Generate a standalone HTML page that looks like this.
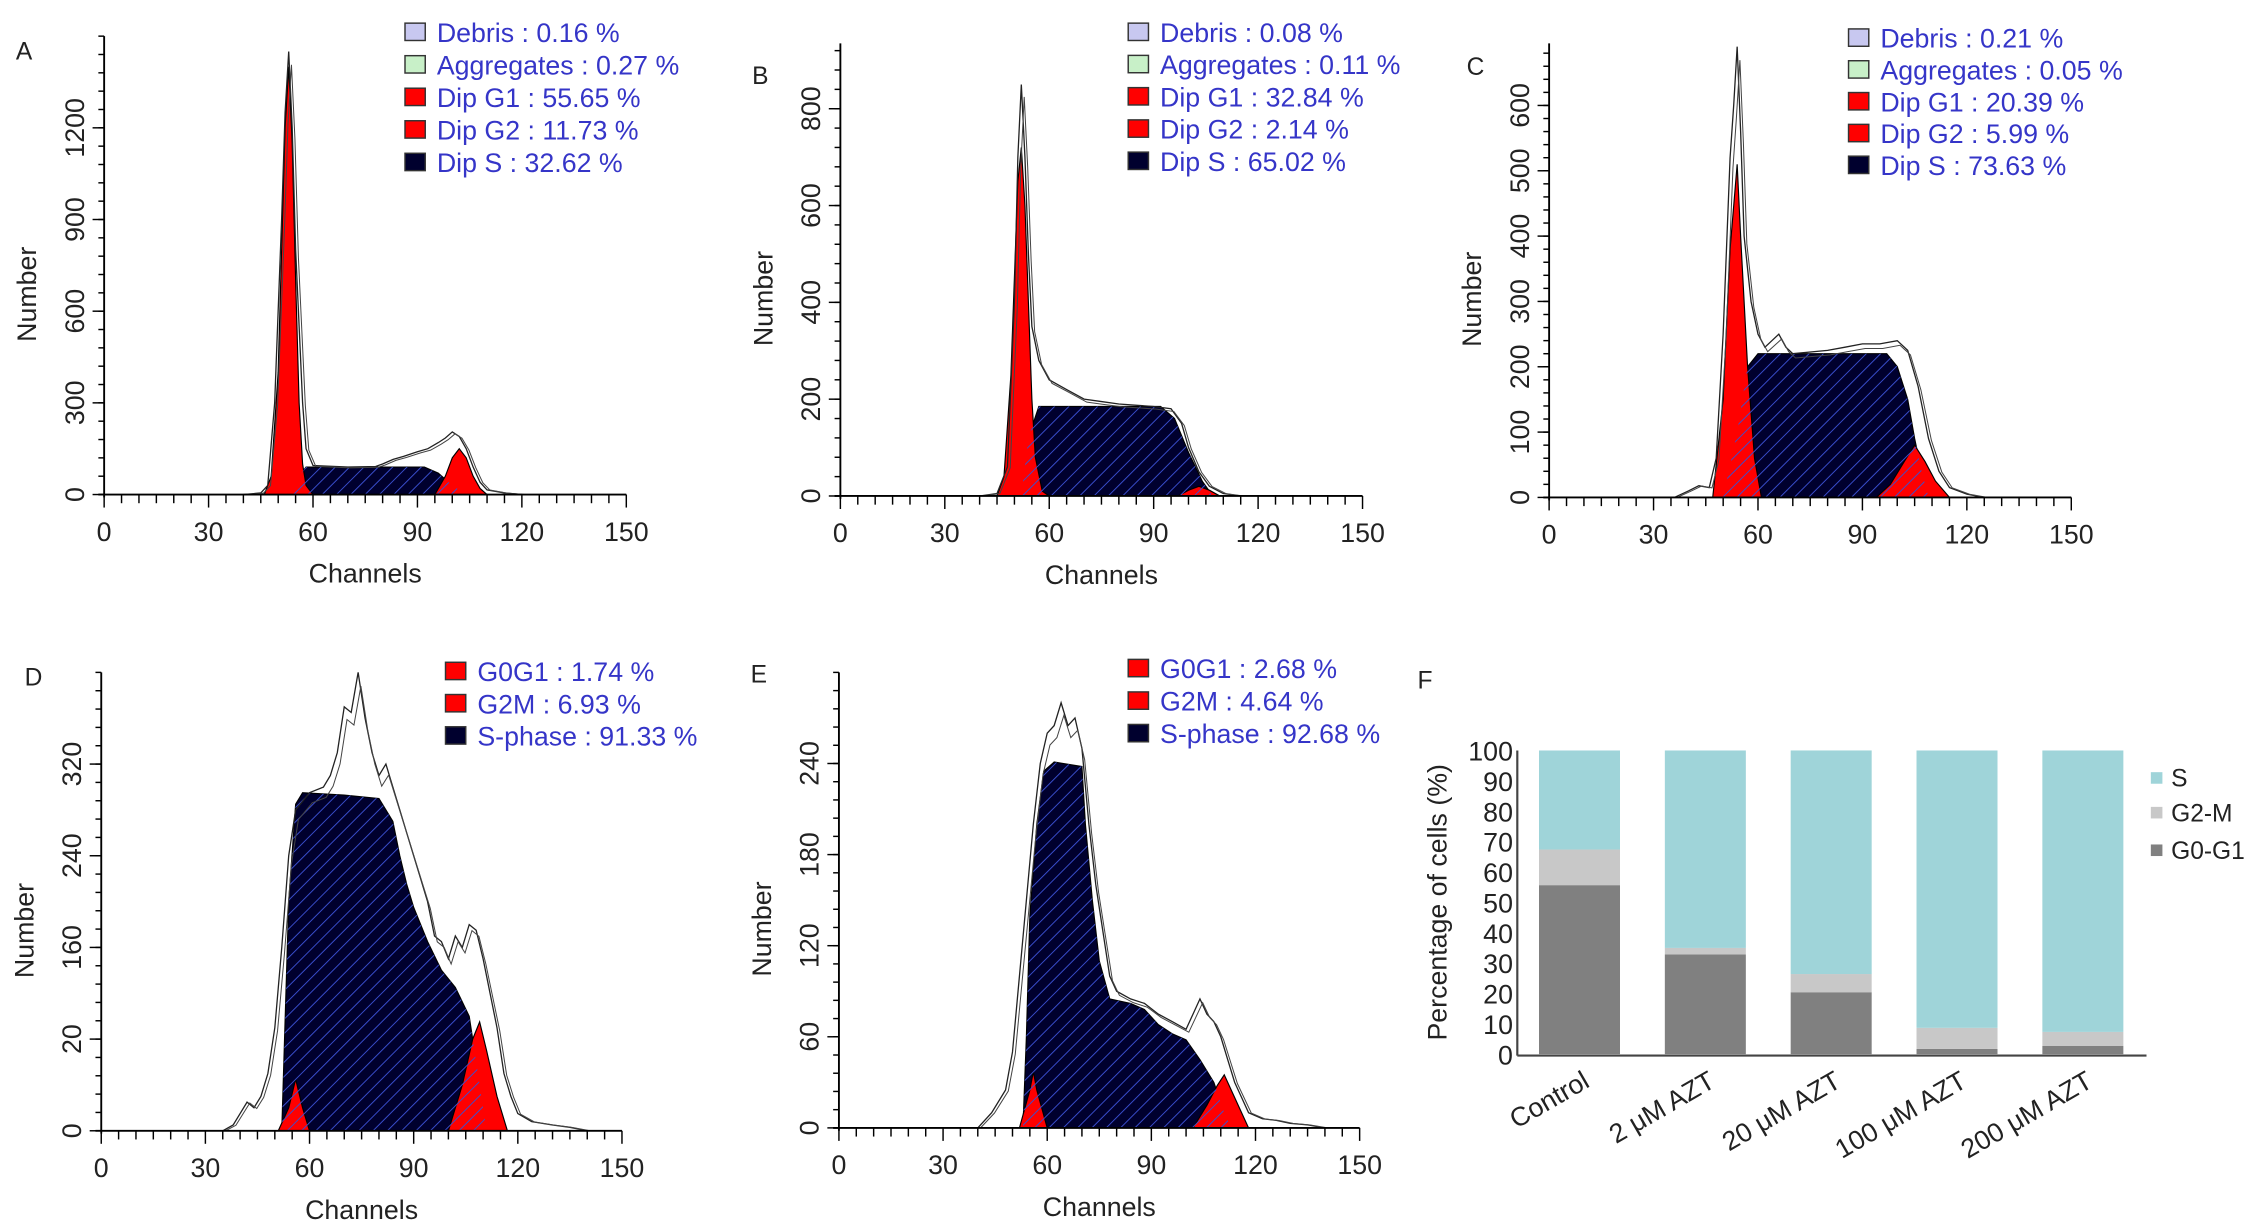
<!DOCTYPE html>
<html><head><meta charset="utf-8">
<style>
html,body{margin:0;padding:0;background:#fff;}
svg{display:block;font-family:"Liberation Sans",Arial,sans-serif;}
</style></head>
<body>
<svg id="fig" width="2268" height="1232" viewBox="0 0 1568 852" preserveAspectRatio="none" xmlns="http://www.w3.org/2000/svg">
<defs>
<pattern id="hatch" patternUnits="userSpaceOnUse" width="7" height="7" patternTransform="rotate(45)">
<line x1="0" y1="0" x2="0" y2="7" stroke="#3a4fd0" stroke-width="1.3"/>
</pattern>
</defs>
</svg>
<script>
// ---- Histogram data (channel, count) ----
const rawA=[[40,0],[45,5],[47,30],[49,300],[51,900],[52,1250],[53,1450],[54,1200],[55,800],[57,300],[58,150],[60,95],[70,90],[78,92],[80,100],[83,115],[86,125],[90,140],[93,150],[96,170],[98,185],[100,205],[102,190],[104,150],[106,90],[108,40],[110,15],[115,5],[120,0]];
const g1A=[[46,0],[48,60],[50,400],[51,800],[52,1200],[53,1400],[54,1150],[55,700],[56,300],[57,100],[58,30],[60,0]];
const sA=[[54,0],[56,60],[58,90],[92,90],[96,70],[100,30],[104,0]];
const g2A=[[95,0],[98,60],[100,120],[102,150],[104,120],[106,60],[108,20],[110,0]];

const rawB=[[40,0],[45,5],[48,60],[50,400],[51,700],[52,850],[53,700],[54,500],[55,350],[57,280],[60,240],[65,220],[70,200],[75,195],[80,190],[90,185],[95,180],[98,150],[100,100],[103,50],[106,20],[110,5],[115,0]];
const g1B=[[45,0],[47,40],[49,250],[50,450],[51,650],[52,720],[53,600],[54,400],[55,200],[56,80],[58,10],[60,0]];
const sB=[[52,0],[54,120],[57,185],[92,185],[96,160],[100,90],[104,30],[107,0]];
const g2B=[[97,0],[100,12],[103,20],[106,12],[109,0]];

const rawC=[[36,0],[40,10],[43,18],[46,15],[48,60],[50,250],[52,520],[53,600],[54,690],[55,560],[56,400],[58,300],[60,250],[62,230],[64,240],[66,250],[68,230],[70,220],[80,225],[85,230],[90,235],[95,235],[100,240],[103,225],[106,170],[109,90],[112,40],[115,15],[120,5],[125,0]];
const g1C=[[47,0],[50,150],[52,380],[54,510],[55,400],[57,200],[59,60],[61,0]];
const sC=[[50,0],[54,100],[57,200],[60,220],[97,220],[100,200],[103,150],[105,90],[107,40],[109,0]];
const g2C=[[94,0],[98,20],[102,55],[105,80],[108,55],[111,25],[115,0]];

const rawD=[[35,0],[38,5],[40,15],[42,25],[44,20],[46,30],[48,50],[50,90],[52,160],[54,240],[56,280],[60,295],[64,300],[66,310],[68,330],[70,370],[72,365],[74,400],[76,360],[78,330],[80,310],[82,320],[84,300],[86,280],[88,260],[90,240],[92,220],[94,200],[96,170],[98,165],[100,150],[102,170],[104,160],[106,180],[108,175],[110,150],[112,120],[114,90],[116,50],[118,30],[120,15],[124,8],[130,5],[135,3],[140,0]];
const g1D=[[51,0],[54,20],[56,45],[58,20],[60,0]];
const sD=[[52,0],[53,100],[54,200],[56,285],[58,295],[70,293],[80,290],[84,270],[86,240],[88,215],[90,195],[94,165],[98,140],[102,125],[106,100],[108,60],[110,20],[111,0]];
const g2D=[[100,0],[104,40],[107,80],[109,95],[111,70],[114,30],[117,0]];

const rawE=[[40,0],[44,10],[48,25],[50,50],[52,100],[54,150],[56,200],[58,240],[60,260],[62,265],[64,280],[66,265],[68,270],[70,250],[72,200],[74,160],[76,130],[78,100],[80,90],[84,85],[88,82],[92,75],[96,70],[100,65],[102,75],[104,85],[106,75],[108,70],[110,60],[112,45],[114,30],[116,20],[118,10],[122,6],[126,5],[130,3],[135,2],[140,0]];
const g1E=[[52,0],[55,25],[56,37],[57,25],[60,0]];
const sE=[[53,0],[54,60],[55,140],[57,200],[59,235],[62,241],[70,238],[71,200],[73,150],[75,110],[78,85],[84,82],[88,78],[92,68],[96,62],[100,58],[104,45],[108,30],[111,10],[113,0]];
const g2E=[[102,0],[106,15],[109,28],[111,35],[113,25],[116,10],[118,0]];

// y tick values and printed labels
const yTicksA=[0,300,600,900,1200], yLabelsA=["0","300","600","900","1200"];
const yTicksB=[0,200,400,600,800], yLabelsB=["0","200","400","600","800"];
const yTicksC=[0,100,200,300,400,500,600], yLabelsC=["0","100","200","300","400","500","600"];
const yTicksD=[0,80,160,240,320], yLabelsD=["0","20","160","240","320"];
const yTicksE=[0,60,120,180,240], yLabelsE=["0","60","120","180","240"];
const xTicks=[0,30,60,90,120,150];

const legA=["Debris : 0.16 %","Aggregates : 0.27 %","Dip G1 : 55.65 %","Dip G2 : 11.73 %","Dip S : 32.62 %"];
const legB=["Debris : 0.08 %","Aggregates : 0.11 %","Dip G1 : 32.84 %","Dip G2 : 2.14 %","Dip S : 65.02 %"];
const legC=["Debris : 0.21 %","Aggregates : 0.05 %","Dip G1 : 20.39 %","Dip G2 : 5.99 %","Dip S : 73.63 %"];
const legD=["G0G1 : 1.74 %","G2M : 6.93 %","S-phase : 91.33 %"];
const legE=["G0G1 : 2.68 %","G2M : 4.64 %","S-phase : 92.68 %"];

// ---- Bar chart data ----
const categories=["Control","2 μM AZT","20 μM AZT","100 μM AZT","200 μM AZT"];
const g0g1=[55.65,32.84,20.39,1.74,2.68];
const g2m=[11.73,2.14,5.99,6.93,4.64];
const sPhase=[32.62,65.02,73.63,91.33,92.68];
const barTicks=[0,10,20,30,40,50,60,70,80,90,100];

const svg=document.getElementById('fig');
const NS="http://www.w3.org/2000/svg";
const FS=18.5;
function mk(tag,attrs,parent){const e=document.createElementNS(NS,tag);for(const k in attrs)e.setAttribute(k,attrs[k]);(parent||svg).appendChild(e);return e;}
function txt(s,attrs,parent){const e=mk('text',attrs,parent);e.textContent=s;return e;}

function histo(cfg){
  const g=mk('g',{});
  
  
  const X=c=>cfg.x0+(cfg.x1-cfg.x0)*c/150;
  const Y=v=>cfg.y0-(cfg.y0-cfg.top)*v/cfg.yMax;
  const pts=a=>a.map(p=>X(p[0]).toFixed(1)+','+Y(p[1]).toFixed(1)).join(' ');
  const sFill=mk('polygon',{points:pts(cfg.s),fill:'#00002e',stroke:'#000',"stroke-width":0.8},g);
  
  
  const g1=mk('polygon',{points:pts(cfg.g1),fill:'#ff0000',stroke:'#000',"stroke-width":0.8},g);
  
  
  const g2=mk('polygon',{points:pts(cfg.g2),fill:'#ff0000',stroke:'#000',"stroke-width":0.8},g);
  
  
  const hat=mk('polygon',{points:pts(cfg.s),fill:'url(#hatch)',stroke:'none'},g);
  
  
  const raw=mk('polyline',{points:pts(cfg.raw),fill:'none',stroke:'#222',"stroke-width":0.9},g);
  
  
  const raw2=mk('polyline',{points:pts(cfg.raw.map(p=>[p[0]+0.8,p[1]*0.97])),fill:'none',stroke:'#444',"stroke-width":0.7},g);
  
  
  const xa=mk('line',{x1:cfg.x0-4,y1:cfg.y0,x2:cfg.x1,y2:cfg.y0,stroke:'#000',"stroke-width":1.3},g);
  
  
  const ya=mk('line',{x1:cfg.x0,y1:cfg.top,x2:cfg.x0,y2:cfg.y0+2,stroke:'#000',"stroke-width":1.3},g);
  
  
  for(let c=0;c<=150;c+=5){
    mk('line',{x1:X(c),y1:cfg.y0,x2:X(c),y2:cfg.y0+(c%30===0?9:6),stroke:'#000',"stroke-width":1},g);
  }
  xTicks.forEach(c=>{
    const t=txt(String(c),{x:X(c),y:cfg.y0+32,"font-size":FS,"text-anchor":"middle",fill:'#222'},g);
    
    
  });
  for(let v=0;v<=cfg.yMax;v+=cfg.minor){
    mk('line',{x1:cfg.x0-4,y1:Y(v),x2:cfg.x0,y2:Y(v),stroke:'#000',"stroke-width":1},g);
  }
  cfg.yt.forEach((v,i)=>{
    mk('line',{x1:cfg.x0-8,y1:Y(v),x2:cfg.x0,y2:Y(v),stroke:'#000',"stroke-width":1},g);
    const t=txt(cfg.yl[i],{x:0,y:0,"font-size":FS,"text-anchor":"middle",fill:'#222',transform:`translate(${cfg.x0-14},${Y(v)}) rotate(-90)`},g);
    
    
  });
  if(cfg.xt){
    const t=txt('Channels',{x:(cfg.x0+cfg.x1)/2,y:cfg.y0+61,"font-size":FS,"text-anchor":"middle",fill:'#222'},g);
    
    
  }
  const yt=txt('Number',{x:0,y:0,"font-size":FS,"text-anchor":"middle",fill:'#222',transform:`translate(${cfg.x0-47},${(cfg.y0+cfg.top)/2+20}) rotate(-90)`},g);
  
  
  const L=txt(cfg.letter,{x:cfg.lx,y:cfg.ly,"font-size":17,fill:'#222'},g);
  
  
  const cols=cfg.leg.length===5?['#c8c8f0','#c8f0c8','#ff0000','#ff0000','#00002e']:['#ff0000','#ff0000','#00002e'];
  cfg.leg.forEach((s,i)=>{
    const yy=cfg.legY+i*cfg.legStep;
    const sw=mk('rect',{x:cfg.legX,y:yy-6,width:14,height:12,fill:cols[i],stroke:'#333',"stroke-width":1},g);
    
    
    const t=txt(s,{x:cfg.legX+22,y:yy+7,"font-size":FS,fill:'#3535c8'},g);
    
    
  });
}
histo({name:'panel-a',x0:72,x1:433,y0:342,top:25,yMax:1500,minor:60,yt:yTicksA,yl:yLabelsA,raw:rawA,g1:g1A,s:sA,g2:g2A,xt:true,letter:'A',lx:11,ly:41,leg:legA,legX:280,legY:22,legStep:22.5});
histo({name:'panel-b',x0:581,x1:942,y0:343,top:30,yMax:935,minor:40,yt:yTicksB,yl:yLabelsB,raw:rawB,g1:g1B,s:sB,g2:g2B,xt:true,letter:'B',lx:520,ly:58,leg:legB,legX:780,legY:22,legStep:22.3});
histo({name:'panel-c',x0:1071,x1:1432,y0:344,top:30,yMax:695,minor:20,yt:yTicksC,yl:yLabelsC,raw:rawC,g1:g1C,s:sC,g2:g2C,xt:false,letter:'C',lx:1014,ly:52,leg:legC,legX:1278,legY:26,legStep:22});
histo({name:'panel-d',x0:70,x1:430,y0:782,top:465,yMax:400,minor:16,yt:yTicksD,yl:yLabelsD,raw:rawD,g1:g1D,s:sD,g2:g2D,xt:true,letter:'D',lx:17,ly:474,leg:legD,legX:308,legY:464,legStep:22.3});
histo({name:'panel-e',x0:580,x1:940,y0:780,top:465,yMax:300,minor:12,yt:yTicksE,yl:yLabelsE,raw:rawE,g1:g1E,s:sE,g2:g2E,xt:true,letter:'E',lx:519,ly:472,leg:legE,legX:780,legY:462,legStep:22.5});

// ---- Panel F: stacked bars ----
(function(){
  const g=mk('g',{});
  
  
  const ax0=1049, ax1=1484, y0=729, y100=519;
  const Y=v=>y0-(y0-y100)*v/100;
  const bw=56, band=87, first=1064;
  const X=i=>first+i*band;
  categories.forEach((c,i)=>{
    const segs=[[g0g1[i],'#808080','bar-g0-g1'],[g2m[i],'#c8c8c8','bar-g2-m'],[sPhase[i],'#9fd4d9','bar-s']];
    let acc=0;
    segs.forEach(sg=>{
      const r=mk('rect',{x:X(i),y:Y(acc+sg[0]),width:bw,height:Y(acc)-Y(acc+sg[0]),fill:sg[1]},g);
      
      
      acc+=sg[0];
    });
    const t=txt(c,{x:0,y:0,"font-size":FS,"text-anchor":"end",fill:'#222',transform:`translate(${X(i)+bw/2+8},${y0+22}) rotate(-30)`},g);
    
    
  });
  const ya=mk('line',{x1:ax0,y1:y100,x2:ax0,y2:y0+1,stroke:'#444',"stroke-width":1.5},g);
  
  
  const xa=mk('line',{x1:ax0,y1:y0+1,x2:ax1,y2:y0+1,stroke:'#444',"stroke-width":1.5},g);
  
  
  barTicks.forEach(v=>{
    const t=txt(String(v),{x:ax0-3,y:Y(v)+7,"font-size":FS,"text-anchor":"end",fill:'#222'},g);
    
    
  });
  const yt=txt('Percentage of cells (%)',{x:0,y:0,"font-size":FS,"text-anchor":"middle",fill:'#222',transform:`translate(1000,624) rotate(-90)`},g);
  
  
  const L=txt('F',{x:980,y:476,"font-size":17,fill:'#222'},g);
  
  
  [['S','#9fd4d9',538],['G2-M','#c8c8c8',562],['G0-G1','#808080',588]].forEach(l=>{
    const s=mk('rect',{x:1487,y:l[2]-4,width:8,height:8,fill:l[1]},g);
    
    
    const t=txt(l[0],{x:1501,y:l[2]+6,"font-size":17,fill:'#222'},g);
    
    
  });
})();
</script>
</body></html>
